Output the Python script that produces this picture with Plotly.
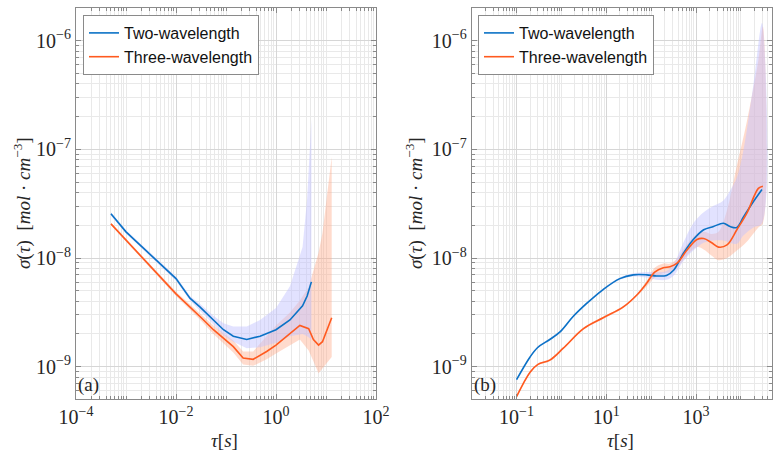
import plotly.graph_objects as go

# ---------------- panel (a) ----------------
tau_a_two = [5.0e-4, 1.0e-3, 1.0e-2, 1.9e-2, 3.0e-2, 5.6e-2, 8.9e-2, 0.14, 0.26, 0.48, 1.0, 1.9, 3.4, 4.2, 5.1]
sig_a_two = [2.55e-8, 1.74e-8, 6.46e-9, 4.27e-9, 3.55e-9, 2.69e-9, 2.19e-9, 1.91e-9, 1.78e-9, 1.91e-9, 2.19e-9, 2.69e-9, 3.63e-9, 4.47e-9, 6.03e-9]
up_a_two = [2.63e-8, 1.80e-8, 6.76e-9, 4.47e-9, 3.80e-9, 2.95e-9, 2.51e-9, 2.34e-9, 2.34e-9, 2.69e-9, 3.47e-9, 5.50e-9, 1.26e-8, 3.55e-8, 1.86e-7]
lo_a_two = [2.45e-8, 1.68e-8, 6.17e-9, 4.07e-9, 3.31e-9, 2.45e-9, 1.95e-9, 1.70e-9, 1.48e-9, 1.51e-9, 1.66e-9, 1.91e-9, 2.00e-9, 1.91e-9, 1.78e-9]

tau_a_three = [5.0e-4, 1.0e-2, 3.2e-2, 5.6e-2, 0.14, 0.22, 0.35, 0.65, 1.0, 1.9, 3.0, 4.5, 5.6, 7.1, 8.5, 13.0]
sig_a_three = [2.06e-8, 4.68e-9, 2.82e-9, 2.19e-9, 1.53e-9, 1.20e-9, 1.17e-9, 1.38e-9, 1.58e-9, 2.00e-9, 2.40e-9, 2.24e-9, 1.78e-9, 1.58e-9, 1.70e-9, 2.82e-9]
up_a_three = [2.11e-8, 4.90e-9, 3.02e-9, 2.40e-9, 1.74e-9, 1.38e-9, 1.38e-9, 1.91e-9, 2.40e-9, 3.16e-9, 4.07e-9, 5.37e-9, 7.59e-9, 1.12e-8, 1.70e-8, 8.51e-8]
lo_a_three = [2.01e-8, 4.47e-9, 2.63e-9, 2.00e-9, 1.35e-9, 1.05e-9, 1.02e-9, 1.17e-9, 1.32e-9, 1.58e-9, 1.78e-9, 1.41e-9, 1.12e-9, 8.7e-10, 9.5e-10, 1.23e-9]

# ---------------- panel (b) ----------------
tau_b_two = [0.10, 0.20, 0.30, 0.55, 0.93, 1.8, 3.6, 8.5, 20, 40, 80, 130, 220, 320, 520, 870,
             1480, 2450, 4070, 5750, 8130, 11500, 19100, 29500]
sig_b_two = [7.6e-10, 1.23e-9, 1.51e-9, 1.78e-9, 2.09e-9, 2.88e-9, 3.80e-9, 5.13e-9, 6.46e-9, 7.0e-9, 7.0e-9,
             6.84e-9, 6.92e-9, 7.76e-9, 1.10e-8, 1.48e-8, 1.82e-8, 1.95e-8, 2.09e-8, 1.95e-8, 1.91e-8,
             2.40e-8, 3.31e-8, 4.27e-8]
up_b_two = [7.8e-10, 1.26e-9, 1.55e-9, 1.82e-9, 2.14e-9, 2.95e-9, 3.89e-9, 5.25e-9, 6.61e-9, 7.24e-9, 7.41e-9,
            7.41e-9, 7.59e-9, 8.91e-9, 1.38e-8, 2.09e-8, 2.63e-8, 3.02e-8, 3.39e-8, 4.17e-8, 5.50e-8,
            1.0e-7, 4.0e-7, 1.45e-6]
lo_b_two = [7.4e-10, 1.20e-9, 1.48e-9, 1.74e-9, 2.04e-9, 2.82e-9, 3.72e-9, 5.01e-9, 6.31e-9, 6.76e-9, 6.61e-9,
            6.31e-9, 6.31e-9, 6.92e-9, 9.33e-9, 1.17e-8, 1.38e-8, 1.45e-8, 1.45e-8, 1.38e-8, 1.35e-8,
            1.62e-8, 1.91e-8, 2.09e-8]

tau_b_three = [0.10, 0.20, 0.30, 0.55, 1.1, 3.1, 8.5, 24, 48, 80, 120, 186, 263, 372, 617, 1050,
               1480, 2240, 3160, 4900, 8130, 13500, 24500, 30900]
sig_b_three = [5.3e-10, 8.9e-10, 1.05e-9, 1.15e-9, 1.48e-9, 2.24e-9, 2.82e-9, 3.55e-9, 4.57e-9, 5.89e-9,
               7.41e-9, 8.13e-9, 8.32e-9, 8.91e-9, 1.17e-8, 1.48e-8, 1.51e-8, 1.38e-8, 1.26e-8, 1.32e-8,
               1.82e-8, 2.57e-8, 4.37e-8, 4.57e-8]
up_b_three = [5.4e-10, 9.1e-10, 1.07e-9, 1.18e-9, 1.51e-9, 2.29e-9, 2.88e-9, 3.63e-9, 4.68e-9, 6.17e-9,
              8.13e-9, 8.91e-9, 8.91e-9, 9.77e-9, 1.32e-8, 1.66e-8, 1.74e-8, 1.66e-8, 1.74e-8, 2.75e-8,
              7.08e-8, 1.78e-7, 6.6e-7, 1.35e-6]
lo_b_three = [5.2e-10, 8.7e-10, 1.03e-9, 1.12e-9, 1.45e-9, 2.19e-9, 2.75e-9, 3.47e-9, 4.47e-9, 5.50e-9,
              6.61e-9, 7.24e-9, 7.41e-9, 8.13e-9, 1.05e-8, 1.26e-8, 1.20e-8, 1.05e-8, 9.55e-9, 1.0e-8,
              1.17e-8, 1.41e-8, 1.91e-8, 2.09e-8]

series_names = ["Two-wavelength", "Three-wavelength"]
line_colors = ["#0b72c6", "#ff5a1f"]
band_colors = ["rgba(195,195,255,0.48)", "rgba(255,165,130,0.40)"]

W, H = 781, 458
SERIF = "Liberation Serif, DejaVu Serif, serif"
SANS = "Liberation Sans, Arial, sans-serif"
MAJOR = "#d6d6d6"
MINOR = "#e9e9e9"
AXC = "#8a8a8a"

fig = go.Figure()

def add_panel(fig, xa, ya, data, shape, legend):
    # orange band first, blue band on top (gives the lavender/pink overlap)
    for i in [1, 0]:
        tau, sig, up, lo = data[i]
        fig.add_trace(go.Scatter(
            x=list(tau) + list(tau)[::-1], y=list(up) + list(lo)[::-1],
            fill="toself", fillcolor=band_colors[i], line=dict(width=0, shape=shape),
            mode="lines", hoverinfo="skip", showlegend=False, xaxis=xa, yaxis=ya))
    for i in [0, 1]:
        tau, sig, up, lo = data[i]
        fig.add_trace(go.Scatter(
            x=tau, y=sig, mode="lines", name=series_names[i],
            line=dict(color=line_colors[i], width=1.6, shape=shape),
            xaxis=xa, yaxis=ya, legend=legend))

add_panel(fig, "x", "y",
          [(tau_a_two, sig_a_two, up_a_two, lo_a_two),
           (tau_a_three, sig_a_three, up_a_three, lo_a_three)], "linear", "legend")
add_panel(fig, "x2", "y2",
          [(tau_b_two, sig_b_two, up_b_two, lo_b_two),
           (tau_b_three, sig_b_three, up_b_three, lo_b_three)], "spline", "legend2")

def sup(k):
    return "10<sup>" + ("−" if k < 0 else "") + str(abs(k)) + "</sup>"

def minor_vals(k0, k1, majors):
    vals = []
    for k in range(k0, k1 + 1):
        for m in range(1, 10):
            v = m * 10.0 ** k
            if m == 1 and k in majors:
                continue
            vals.append(v)
    return vals

TICKFONT = dict(family=SERIF, size=20, color="#262626")

def xaxis_cfg(domain, rng, major_exps, anchor):
    return dict(
        domain=domain, type="log", range=rng, anchor=anchor,
        tickvals=[10.0 ** k for k in major_exps], ticktext=[sup(k) for k in major_exps],
        tickfont=TICKFONT,
        showgrid=True, gridcolor=MAJOR, gridwidth=1,
        ticks="inside", ticklen=5, tickcolor=AXC,
        showline=True, linecolor=AXC, linewidth=1, mirror="allticks", zeroline=False,
        minor=dict(tickvals=minor_vals(int(rng[0]) - 1, int(rng[1]) + 1, major_exps),
                   showgrid=True, gridcolor=MINOR, ticks="inside", ticklen=3, tickcolor=AXC),
        automargin=False)

y_exps = [-9, -8, -7, -6]
def yaxis_cfg(anchor):
    return dict(
        domain=[1 - 399 / H, 1 - 8 / H], type="log", range=[-9.297, -5.70], anchor=anchor,
        tickvals=[10.0 ** k for k in y_exps], ticktext=[sup(k) for k in y_exps],
        tickfont=TICKFONT,
        showgrid=True, gridcolor=MAJOR, gridwidth=1,
        ticks="inside", ticklen=5, tickcolor=AXC,
        showline=True, linecolor=AXC, linewidth=1, mirror="allticks", zeroline=False,
        minor=dict(tickvals=minor_vals(-10, -5, y_exps),
                   showgrid=True, gridcolor=MINOR, ticks="inside", ticklen=3, tickcolor=AXC),
        automargin=False)

legend_style = dict(font=dict(family=SANS, size=16, color="#111111"),
                    bgcolor="white", bordercolor="#8a8a8a", borderwidth=1,
                    xanchor="left", yanchor="top", tracegroupgap=0, itemwidth=30)

ylab = "<i>σ</i>(<i>τ</i>)  [<i>mol</i> · <i>cm</i><sup>−3</sup>]"
xlab = "<i>τ</i>[<i>s</i>]"
LABFONT = dict(family=SERIF, size=19, color="#262626")

annotations = [
    dict(text=ylab, xref="paper", yref="paper", x=22 / W, y=1 - 203 / H, textangle=-90,
         showarrow=False, font=LABFONT, xanchor="center", yanchor="middle"),
    dict(text=ylab, xref="paper", yref="paper", x=414 / W, y=1 - 203 / H, textangle=-90,
         showarrow=False, font=LABFONT, xanchor="center", yanchor="middle"),
    dict(text=xlab, xref="paper", yref="paper", x=224 / W, y=1 - 440 / H,
         showarrow=False, font=LABFONT, xanchor="center", yanchor="middle"),
    dict(text=xlab, xref="paper", yref="paper", x=620 / W, y=1 - 440 / H,
         showarrow=False, font=LABFONT, xanchor="center", yanchor="middle"),
    dict(text="(a)", xref="x domain", yref="y domain", x=0.0, y=0.0, xshift=0, yshift=1,
         showarrow=False, font=LABFONT, xanchor="left", yanchor="bottom"),
    dict(text="(b)", xref="x2 domain", yref="y2 domain", x=0.0, y=0.0, xshift=0, yshift=1,
         showarrow=False, font=LABFONT, xanchor="left", yanchor="bottom"),
]

fig.update_layout(
    width=W, height=H, margin=dict(l=0, r=0, t=0, b=0),
    paper_bgcolor="white", plot_bgcolor="white",
    xaxis=xaxis_cfg([76 / W, 376 / W], [-4, 2], [-4, -2, 0, 2], "y"),
    yaxis=yaxis_cfg("x"),
    xaxis2=xaxis_cfg([471.7 / W, 772.3 / W], [-2, 4.70], [-1, 1, 3], "y2"),
    yaxis2=yaxis_cfg("x2"),
    legend=dict(x=83 / W, y=1 - 15 / H, **legend_style),
    legend2=dict(x=478 / W, y=1 - 15 / H, **legend_style),
    annotations=annotations,
    showlegend=True,
)

fig.write_html("out.html")
